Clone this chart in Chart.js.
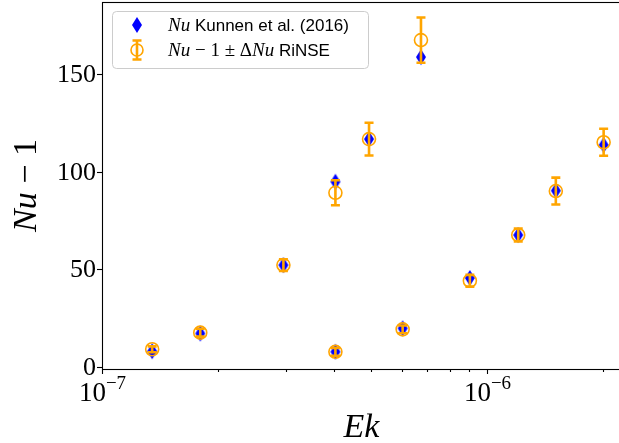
<!DOCTYPE html>
<html>
<head>
<meta charset="utf-8">
<script src="https://cdn.jsdelivr.net/npm/chart.js@4"></script>
<style>
  html, body { margin: 0; padding: 0; overflow: hidden; background: #fff; }
  #wrap { position: relative; width: 621px; height: 443px; }
</style>
</head>
<body>
<div id="wrap"><canvas id="chart" width="621" height="443"></canvas></div>
<script>
// values
const ek = [1.35e-7, 1.8e-7, 2.96e-7, 4.04e-7, 4.04e-7, 4.94e-7, 6.04e-7, 6.74e-7, 9.03e-7, 1.206e-6, 1.51e-6, 2.01e-6];
const nuKunnen = [8.1, 17.2, 52.2, 7.8, 94.9, 116.7, 19.8, 158.7, 45.6, 67.6, 90.3, 113.7];
const nuRinse = [9.1, 17.6, 52.2, 7.8, 89.2, 116.7, 19.3, 167.4, 44.2, 67.6, 90.1, 115.1];
const nuErr = [1.5, 2, 3, 2, 6.4, 8.4, 2, 11.6, 3, 3.3, 6.9, 6.9];
const yTicks = [0, 50, 100, 150];
const xMajor = [1e-7, 1e-6];
const xMajorExp = ["\u22127", "\u22126"];
const xMinor = [2e-7, 3e-7, 4e-7, 5e-7, 6e-7, 7e-7, 8e-7, 9e-7, 2e-6];

const BLUE = "#0000ff";
const ORANGE = "#ffa500";
const SERIF = "'Liberation Serif', 'DejaVu Serif', serif";
const SANS = "'Liberation Sans', Arial, sans-serif";

// thin diamond marker like matplotlib's "d"
function makeDiamond() {
  const c = document.createElement("canvas");
  c.width = 12;
  c.height = 18;
  const g = c.getContext("2d");
  g.fillStyle = BLUE;
  g.beginPath();
  g.moveTo(6, 1);
  g.lineTo(11, 9);
  g.lineTo(6, 17);
  g.lineTo(1, 9);
  g.closePath();
  g.fill();
  return c;
}
const diamond = makeDiamond();

// draws a run of differently styled text pieces
function drawRuns(ctx, runs, x, y, align) {
  let total = 0;
  runs.forEach((r) => {
    ctx.font = r.font;
    r.w = ctx.measureText(r.t).width;
    total += r.w;
  });
  let cx = align === "center" ? x - total / 2 : x;
  ctx.textAlign = "left";
  ctx.textBaseline = "middle";
  runs.forEach((r) => {
    ctx.font = r.font;
    ctx.fillText(r.t, cx, y + (r.dy || 0));
    cx += r.w;
  });
}

function drawErrMarker(ctx, x, y, half, cap) {
  ctx.strokeStyle = ORANGE;
  ctx.lineWidth = 2.6;
  ctx.beginPath();
  ctx.moveTo(x, y - half);
  ctx.lineTo(x, y + half);
  ctx.moveTo(x - cap / 2, y - half);
  ctx.lineTo(x + cap / 2, y - half);
  ctx.moveTo(x - cap / 2, y + half);
  ctx.lineTo(x + cap / 2, y + half);
  ctx.stroke();
}

const axesPlugin = {
  id: "axesPlugin",
  beforeDatasetsDraw(chart) {
    const { ctx, chartArea: a } = chart;
    const xs = chart.scales.x, ys = chart.scales.y;
    ctx.save();
    ctx.strokeStyle = "#000";
    ctx.lineWidth = 1.1;
    ctx.strokeRect(a.left + 0.5, a.top + 0.5, a.right - a.left, a.bottom - a.top);

    ctx.fillStyle = "#000";
    // y ticks
    yTicks.forEach((v) => {
      const py = Math.round(ys.getPixelForValue(v)) + 0.5;
      ctx.beginPath();
      ctx.moveTo(a.left - 5, py);
      ctx.lineTo(a.left, py);
      ctx.stroke();
      ctx.font = "26px " + SERIF;
      ctx.textAlign = "right";
      ctx.textBaseline = "middle";
      ctx.fillText(String(v), a.left - 6, py + 1);
    });
    // x ticks
    xMajor.forEach((v, i) => {
      const px = Math.round(xs.getPixelForValue(v)) + 0.5;
      ctx.beginPath();
      ctx.moveTo(px, a.bottom);
      ctx.lineTo(px, a.bottom + 5);
      ctx.stroke();
      drawRuns(ctx, [
        { t: "10", font: "27px " + SERIF },
        { t: xMajorExp[i], font: "19px " + SERIF, dy: -10 }
      ], px, a.bottom + 25, "center");
    });
    xMinor.forEach((v) => {
      const px = Math.round(xs.getPixelForValue(v)) + 0.5;
      ctx.beginPath();
      ctx.moveTo(px, a.bottom);
      ctx.lineTo(px, a.bottom + 3);
      ctx.stroke();
    });

    // axis titles
    drawRuns(ctx, [{ t: "Ek", font: "italic 34px " + SERIF }], (a.left + a.right) / 2, 428, "center");
    ctx.save();
    ctx.translate(27, (a.top + a.bottom) / 2);
    ctx.rotate(-Math.PI / 2);
    drawRuns(ctx, [
      { t: "Nu", font: "italic 34px " + SERIF },
      { t: " \u2212 1", font: "34px " + SERIF }
    ], 0, 0, "center");
    ctx.restore();
    ctx.restore();
  },
  afterDatasetsDraw(chart) {
    const { ctx } = chart;
    const xs = chart.scales.x, ys = chart.scales.y;
    ctx.save();
    ek.forEach((v, i) => {
      const px = xs.getPixelForValue(v);
      const top = ys.getPixelForValue(nuRinse[i] + nuErr[i]);
      const bot = ys.getPixelForValue(nuRinse[i] - nuErr[i]);
      const mid = (top + bot) / 2;
      drawErrMarker(ctx, px, mid, (bot - top) / 2, 9);
    });
    ctx.restore();
  },
  afterDraw(chart) {
    const { ctx } = chart;
    ctx.save();
    // legend box
    ctx.fillStyle = "rgba(255,255,255,0.8)";
    ctx.strokeStyle = "#cccccc";
    ctx.lineWidth = 1;
    ctx.beginPath();
    ctx.roundRect(112.5, 11.5, 256, 57, 4);
    ctx.fill();
    ctx.stroke();

    ctx.drawImage(diamond, 137 - 6, 25 - 9);
    ctx.fillStyle = "#000";
    drawRuns(ctx, [
      { t: "Nu", font: "italic 19px " + SERIF },
      { t: " Kunnen et al. (2016)", font: "17px " + SANS }
    ], 168, 26, "left");

    drawErrMarker(ctx, 137, 50, 9.5, 9);
    ctx.strokeStyle = ORANGE;
    ctx.lineWidth = 1.6;
    ctx.beginPath();
    ctx.arc(137, 50, 6, 0, Math.PI * 2);
    ctx.stroke();
    ctx.fillStyle = "#000";
    drawRuns(ctx, [
      { t: "Nu", font: "italic 19px " + SERIF },
      { t: " \u2212 1 \u00b1 \u0394", font: "19px " + SERIF },
      { t: "Nu", font: "italic 19px " + SERIF },
      { t: " RiNSE", font: "17px " + SANS }
    ], 168, 51, "left");
    ctx.restore();
  }
};

const ctx = document.getElementById("chart").getContext("2d");
new Chart(ctx, {
  type: "scatter",
  data: {
    datasets: [
      {
        label: "Nu - 1 ± ΔNu RiNSE",
        data: ek.map((x, i) => ({ x: x, y: nuRinse[i] })),
        order: 0,
        pointStyle: "circle",
        pointRadius: 6.5,
        pointHoverRadius: 6.5,
        borderColor: ORANGE,
        backgroundColor: "rgba(0,0,0,0)",
        borderWidth: 1.6,
      },
      {
        label: "Nu Kunnen et al. (2016)",
        data: ek.map((x, i) => ({ x: x, y: nuKunnen[i] })),
        order: 1,
        pointStyle: diamond,
        pointRadius: 8,
        borderColor: BLUE,
        backgroundColor: BLUE,
      },
    ],
  },
  options: {
    responsive: false,
    animation: false,
    events: [],
    layout: { autoPadding: false, padding: { top: 2, left: 0, right: 0, bottom: 0 } },
    plugins: { legend: { display: false }, tooltip: { enabled: false } },
    scales: {
      x: {
        type: "logarithmic",
        min: 1e-7,
        max: 2.23e-6,
        ticks: { display: false },
        grid: { display: false },
        border: { display: false },
        afterFit: (s) => { s.height = 74; },
      },
      y: {
        min: -1,
        max: 186.9,
        ticks: { display: false },
        grid: { display: false },
        border: { display: false },
        afterFit: (s) => { s.width = 102; },
      },
    },
  },
  plugins: [axesPlugin],
});
</script>
</body>
</html>
